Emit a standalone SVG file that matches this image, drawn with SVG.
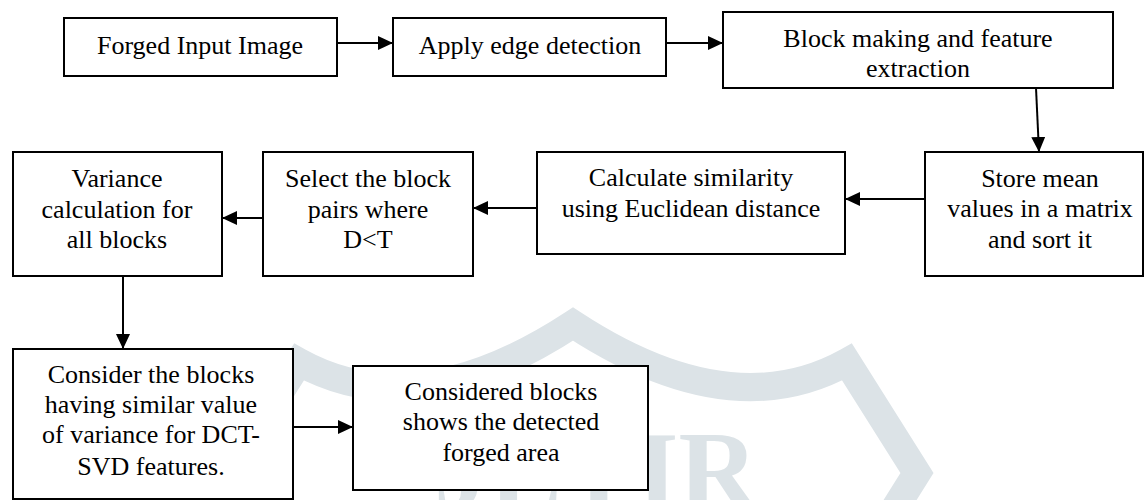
<svg xmlns="http://www.w3.org/2000/svg" width="1145" height="500" viewBox="0 0 1145 500">
  <style>
    .box { fill: #ffffff; stroke: #000000; stroke-width: 2; }
    .lbl { font-family: 'Liberation Serif', 'Tinos', 'Times New Roman', 'DejaVu Serif', serif; font-size: 26px; fill: #000000; text-anchor: middle; }
    .link { stroke: #000000; stroke-width: 2; fill: none; marker-end: url(#head); }
    .mark { fill: none; stroke: #dce3e7; stroke-width: 28; stroke-linejoin: miter; stroke-miterlimit: 10; }
    .markText { font-family: 'Liberation Serif', 'Tinos', 'Times New Roman', 'DejaVu Serif', serif; font-weight: bold; font-size: 110px; fill: #dce3e7; }
  </style>
  <defs>
    <marker id="head" markerUnits="userSpaceOnUse" markerWidth="15" markerHeight="14" refX="15" refY="7" orient="auto">
      <path d="M0,0 L15,7 L0,14 z" fill="#000000"/>
    </marker>
  </defs>

  <rect width="1145" height="500" fill="#ffffff"/>

  <!-- background emblem -->
  <g id="emblem">
    <path class="mark" d="M271,540 L229,473 L299,362 Q416,427 573,324 Q730,427 847,362 L917,473 L875,540"/>
    <text class="markText" x="434" y="508">JETIR</text>
  </g>

  <!-- connectors -->
  <g id="connectors">
    <line class="link" x1="337" y1="43" x2="393" y2="43"/>
    <line class="link" x1="666" y1="43" x2="723" y2="43"/>
    <line class="link" x1="1036" y1="88" x2="1039" y2="152"/>
    <line class="link" x1="925" y1="199" x2="845" y2="199"/>
    <line class="link" x1="537" y1="208" x2="473" y2="208"/>
    <line class="link" x1="263" y1="218" x2="222" y2="218"/>
    <line class="link" x1="123" y1="276" x2="123" y2="349"/>
    <line class="link" x1="293" y1="427" x2="353" y2="427"/>
  </g>

  <g id="forged-input">
    <rect class="box" x="64" y="18" width="273" height="58"/>
    <text class="lbl" x="200" y="54">Forged Input Image</text>
  </g>

  <g id="edge-detection">
    <rect class="box" x="393" y="18" width="273" height="58"/>
    <text class="lbl" x="530" y="54">Apply edge detection</text>
  </g>

  <g id="block-making">
    <rect class="box" x="723" y="12" width="390" height="76"/>
    <text class="lbl" x="918" y="47">Block making and feature</text>
    <text class="lbl" x="918" y="77">extraction</text>
  </g>

  <g id="store-mean">
    <rect class="box" x="925" y="152" width="218" height="124"/>
    <text class="lbl" x="1040" y="187">Store mean</text>
    <text class="lbl" x="1040" y="217">values in a matrix</text>
    <text class="lbl" x="1040" y="248">and sort it</text>
  </g>

  <g id="similarity">
    <rect class="box" x="537" y="152" width="308" height="102"/>
    <text class="lbl" x="691" y="186">Calculate similarity</text>
    <text class="lbl" x="691" y="217">using Euclidean distance</text>
  </g>

  <g id="select-pairs">
    <rect class="box" x="263" y="152" width="210" height="124"/>
    <text class="lbl" x="368" y="187">Select the block</text>
    <text class="lbl" x="368" y="218">pairs where</text>
    <text class="lbl" x="368" y="248">D&lt;T</text>
  </g>

  <g id="variance">
    <rect class="box" x="13" y="152" width="209" height="124"/>
    <text class="lbl" x="117" y="187">Variance</text>
    <text class="lbl" x="117" y="218">calculation for</text>
    <text class="lbl" x="117" y="248">all blocks</text>
  </g>

  <g id="consider-blocks">
    <rect class="box" x="13" y="349" width="280" height="150"/>
    <text class="lbl" x="151" y="383">Consider the blocks</text>
    <text class="lbl" x="151" y="413">having similar value</text>
    <text class="lbl" x="151" y="443">of variance for DCT-</text>
    <text class="lbl" x="151" y="475">SVD features.</text>
  </g>

  <g id="detected-area">
    <rect class="box" x="353" y="366" width="295" height="124"/>
    <text class="lbl" x="501" y="400">Considered blocks</text>
    <text class="lbl" x="501" y="430">shows the detected</text>
    <text class="lbl" x="501" y="461">forged area</text>
  </g>
</svg>
